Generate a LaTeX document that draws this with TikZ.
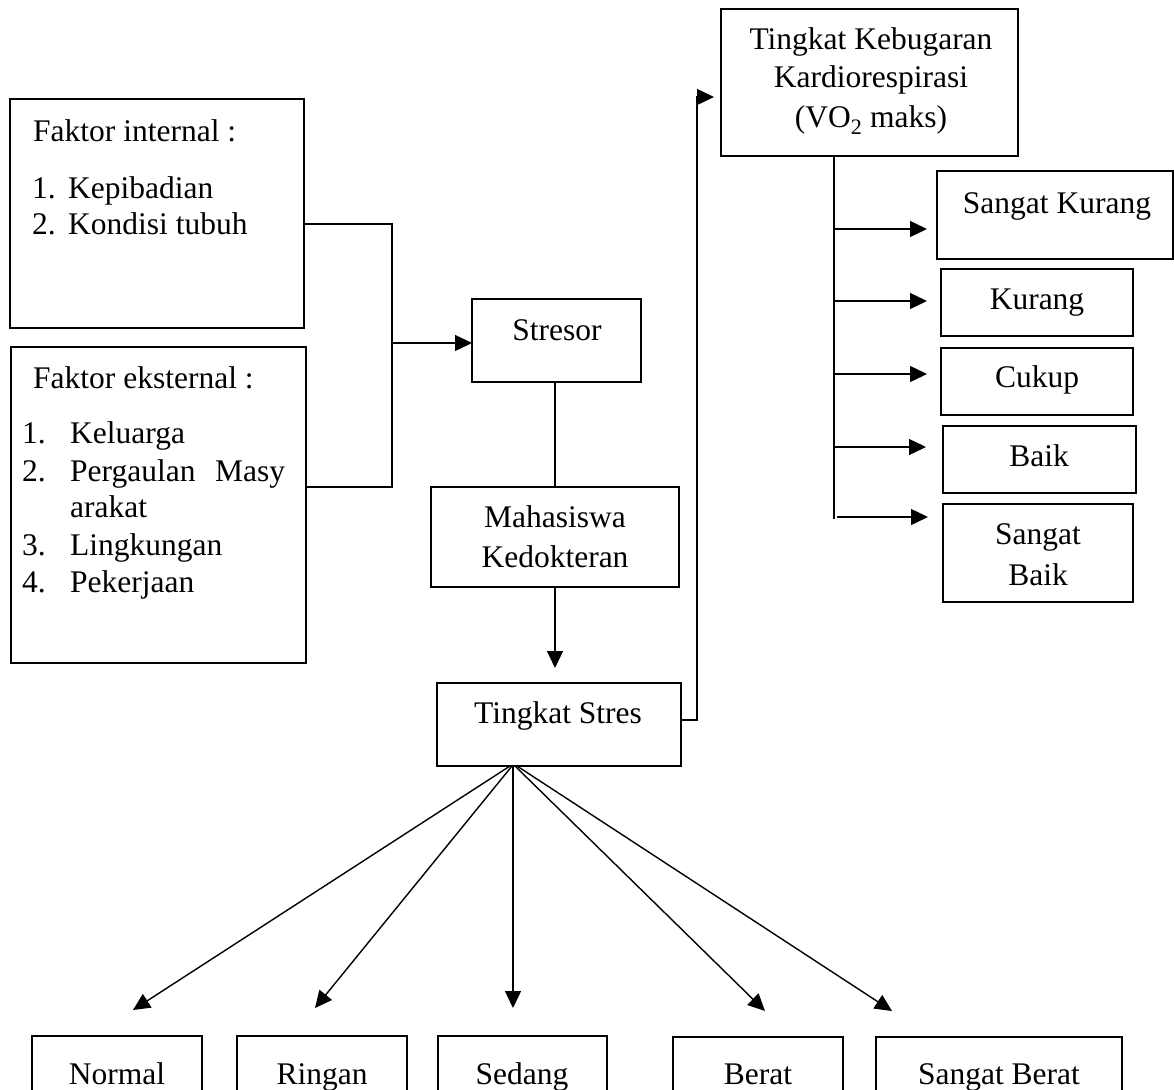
\documentclass[tikz,border=0pt]{standalone}
\usepackage{fontspec}
\setmainfont{Liberation Serif}
\usetikzlibrary{arrows.meta,fit}
\begin{document}
\begin{tikzpicture}[x=1pt,y=-1pt,
  box/.style={draw,line width=1.6pt,inner sep=0pt,outer sep=0pt},
  conn/.style={line width=1.4pt},
  arr/.style={conn,-{Triangle[length=17pt,width=16pt]}},
  txt/.style={inner sep=0pt,font=\fontsize{31.5}{38}\selectfont},
  lt/.style={txt,anchor=base west},
  ct/.style={txt,anchor=base}]
\useasboundingbox (0,0) rectangle (1174,1089);
\clip (0,0) rectangle (1174,1089);

% left factor boxes
\node[box,fit={(10,99) (304,328)}] (int) {};
\node[lt] (intT) at (33,141) {Faktor internal :};
\node[lt] (int1n) at (32,198) {1.};
\node[lt] (int1) at (68,198) {Kepibadian};
\node[lt] (int2n) at (32,234) {2.};
\node[lt] (int2) at (68,234) {Kondisi tubuh};

\node[box,fit={(11,347) (306,663)}] (ext) {};
\node[lt] (extT) at (33,388) {Faktor eksternal :};
\node[lt] (ext1n) at (22,443) {1.};
\node[lt] (ext1) at (70,443) {Keluarga};
\node[lt] (ext2n) at (22,481) {2.};
\node[lt] (ext2) at (70,481) {Pergaulan};
\node[lt] (ext2b) at (215,481) {Masy};
\node[lt] (ext2c) at (70,517) {arakat};
\node[lt] (ext3n) at (22,555) {3.};
\node[lt] (ext3) at (70,555) {Lingkungan};
\node[lt] (ext4n) at (22,592) {4.};
\node[lt] (ext4) at (70,592) {Pekerjaan};

% centre column
\node[box,fit={(472,299) (641,382)}] (stres) {};
\node[ct] (stresT) at (557,340) {Stresor};
\node[box,fit={(431,487) (679,587)}] (maha) {};
\node[ct] (mahaT1) at (555,527) {Mahasiswa};
\node[ct] (mahaT2) at (555,567) {Kedokteran};
\node[box,fit={(437,683) (681,766)}] (ts) {};
\node[ct] (tsT) at (558,723) {Tingkat Stres};

% right column
\node[box,fit={(721,9) (1018,156)}] (keb) {};
\node[ct] (kebT1) at (871,50) {Tingkat Kebugaran};
\node[ct] (kebT2) at (871,88) {Kardiorespirasi};
\node[ct] (kebT3) at (871,128) {(VO\textsubscript{2} maks)};

\node[box,fit={(937,171) (1173,259)}] (sk) {};
\node[ct] (skT) at (1057,213) {Sangat Kurang};
\node[box,fit={(941,269) (1133,336)}] (kur) {};
\node[ct] (kurT) at (1037,309) {Kurang};
\node[box,fit={(941,348) (1133,415)}] (cuk) {};
\node[ct] (cukT) at (1037,387) {Cukup};
\node[box,fit={(943,426) (1136,493)}] (bai) {};
\node[ct] (baiT) at (1039,466) {Baik};
\node[box,fit={(943,504) (1133,602)}] (sb) {};
\node[ct] (sbT1) at (1038,544) {Sangat};
\node[ct] (sbT2) at (1038,585) {Baik};

% bottom row
\node[box,fit={(32,1036) (202,1110)}] (nor) {};
\node[ct] (norT) at (117,1084) {Normal};
\node[box,fit={(237,1036) (407,1110)}] (rin) {};
\node[ct] (rinT) at (322,1084) {Ringan};
\node[box,fit={(438,1036) (607,1110)}] (sed) {};
\node[ct] (sedT) at (522,1084) {Sedang};
\node[box,fit={(673,1037) (843,1110)}] (ber) {};
\node[ct] (berT) at (758,1084) {Berat};
\node[box,fit={(876,1037) (1122,1110)}] (sbr) {};
\node[ct] (sbrT) at (999,1084) {Sangat Berat};

% connectors: factors to stresor
\coordinate (jtop) at (392,224);
\coordinate (jbot) at (392,487);
\coordinate (jmid) at (392,343);
\draw[conn] (int.east |- jtop) -- (jtop) -- (jbot) -- (ext.east |- jbot);
\draw[arr] (jmid) -- (stres.west |- jmid);

% centre column
\draw[conn] (maha.north |- stres.south) -- (maha.north);
\draw[arr,shorten >=15pt] (maha.south) -- (maha.south |- ts.north);

% tingkat stres to kebugaran
\coordinate (r1) at (697,720);
\coordinate (r2) at (697,97);
\draw[arr,shorten >=7pt] (ts.east |- r1) -- (r1) -- (r2) -- (keb.west |- r2);

% kebugaran trunk and branches
\coordinate (tk) at (834,519);
\draw[conn] (tk |- keb.south) -- (tk);
\coordinate (b1) at (927,229);
\coordinate (b2) at (927,301);
\coordinate (b3) at (927,374);
\coordinate (b4) at (926,447);
\coordinate (b5) at (928,517);
\draw[arr] (tk |- b1) -- (b1);
\draw[arr] (tk |- b2) -- (b2);
\draw[arr] (tk |- b3) -- (b3);
\draw[arr] (tk |- b4) -- (b4);
\draw[arr] ([xshift=3pt]tk |- b5) -- (b5);

% tingkat stres to levels
\coordinate (o1) at (510,766);
\coordinate (o2) at (512,766);
\coordinate (o3) at (513,766);
\coordinate (o4) at (515,766);
\coordinate (o5) at (517,766);
\coordinate (e1) at (133,1010);
\coordinate (e2) at (315,1008);
\coordinate (e3) at (513,1008);
\coordinate (e4) at (765,1011);
\coordinate (e5) at (892,1011);
\draw[arr] (o1) -- (e1);
\draw[arr] (o2) -- (e2);
\draw[arr] (o3) -- (e3);
\draw[arr] (o4) -- (e4);
\draw[arr] (o5) -- (e5);
\end{tikzpicture}
\end{document}
